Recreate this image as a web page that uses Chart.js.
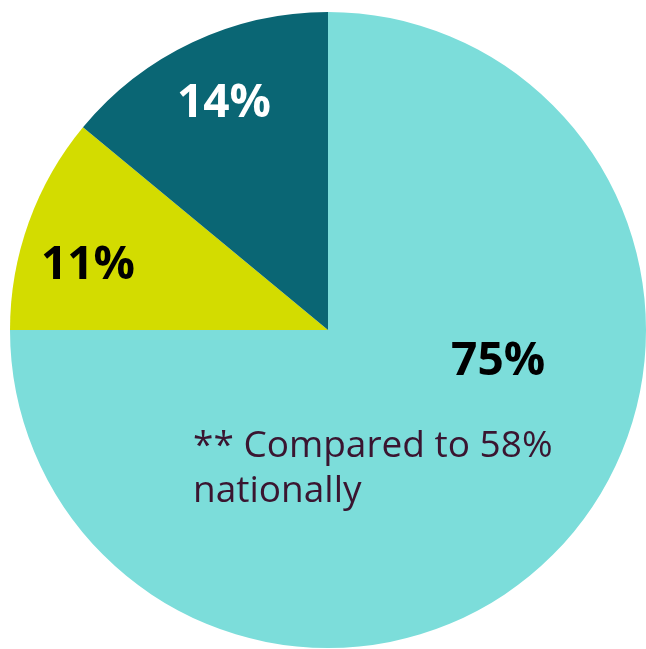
<!DOCTYPE html>
<html>
<head>
<meta charset="utf-8">
<script src="https://cdn.jsdelivr.net/npm/chart.js@4"></script>
<style>
html,body{margin:0;padding:0;background:#fff;overflow:hidden;width:646px;height:649px;}
#wrap{position:absolute;left:10px;top:12px;width:636px;height:636px;}
</style>
</head>
<body>
<div id="wrap"><canvas id="c" width="636" height="636"></canvas></div>
<script>
const categories = ["Group A", "Group B", "Group C"];
const values = [75, 11, 14];
const valueLabels = ["75%", "11%", "14%"];
const colors = ["#7cddda", "#d3dc00", "#0a6674"];
const labelColors = ["#000000", "#000000", "#ffffff"];
const note = ["** Compared to 58%", "nationally"];

// label anchor offsets (fraction of radius from pie centre; x centre, y baseline)
const labelPos = [[0.535, 0.1415], [-0.755, -0.160], [-0.327, -0.670]];

const labelPlugin = {
  id: 'labels',
  afterDatasetsDraw(chart) {
    const ctx = chart.ctx;
    const meta = chart.getDatasetMeta(0);
    const arc0 = meta.data[0];
    const cx = arc0.x, cy = arc0.y, r = arc0.outerRadius;
    ctx.save();
    ctx.textAlign = 'center';
    ctx.textBaseline = 'alphabetic';
    ctx.font = 'bold 46px "Open Sans"';
    meta.data.forEach((arc, i) => {
      ctx.fillStyle = labelColors[i];
      ctx.fillText(valueLabels[i], cx + labelPos[i][0] * r, cy + labelPos[i][1] * r);
    });
    ctx.font = '37px "Open Sans"';
    ctx.fillStyle = '#3a1530';
    ctx.textAlign = 'left';
    ctx.fillText(note[0], cx - 0.4245 * r, cy + 0.399 * r);
    ctx.fillText(note[1], cx - 0.4245 * r, cy + 0.541 * r);
    ctx.restore();
  }
};

new Chart(document.getElementById('c'), {
  type: 'pie',
  data: {
    labels: categories,
    datasets: [{
      data: values,
      backgroundColor: colors,
      borderWidth: 0
    }]
  },
  options: {
    responsive: false,
    animation: false,
    layout: { padding: 0 },
    plugins: { legend: { display: false }, tooltip: { enabled: false } }
  },
  plugins: [labelPlugin]
});
</script>
</body>
</html>
